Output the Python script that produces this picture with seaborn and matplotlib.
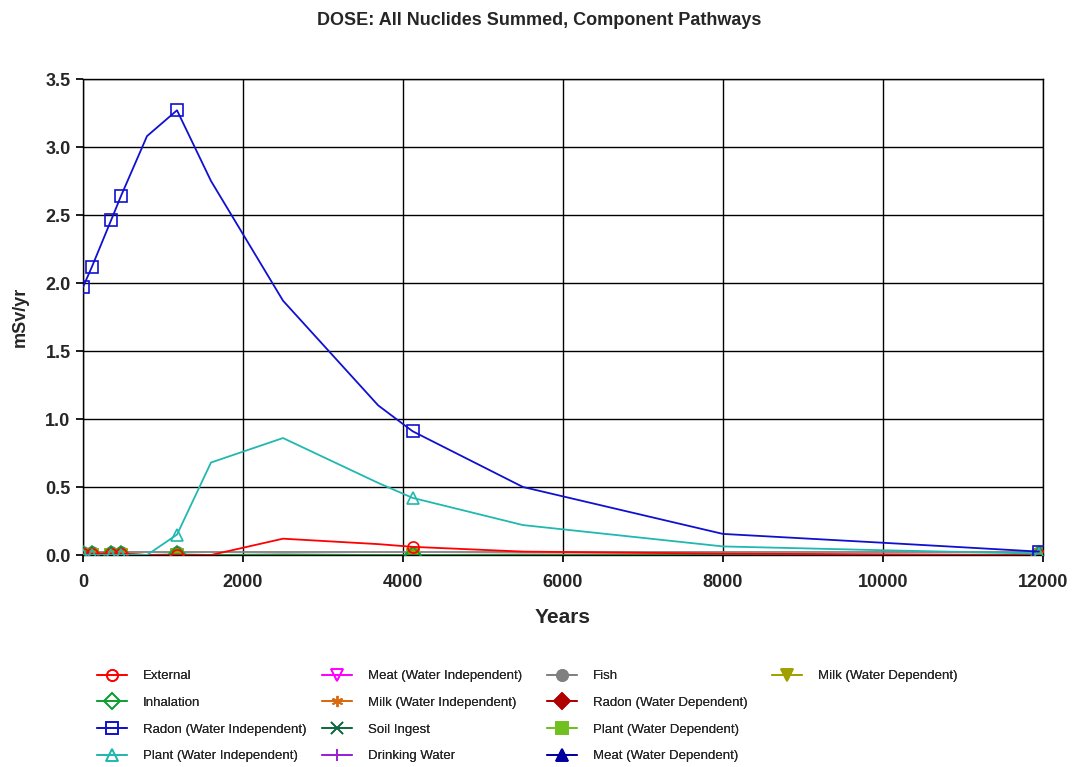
import numpy as np
import pandas as pd
import matplotlib
matplotlib.use("Agg")
import matplotlib.pyplot as plt
import seaborn as sns

# ---- data ----
years = [0, 112, 350, 475, 800, 1175, 1600, 2500, 3690, 4120, 5500, 8000, 10000, 11950]
marker_idx = [0, 1, 2, 3, 5, 9, 13]

external = [0.01, 0.01, 0.01, 0.01, 0.0, 0.0, 0.0, 0.12, 0.08, 0.06, 0.025, 0.01, 0.005, 0.0]
inhalation = [0.01, 0.01, 0.01, 0.01, 0.0, 0.005, 0.0, 0.0, 0.0, 0.0, 0.0, 0.0, 0.0, 0.0]
radon_wi = [1.97, 2.12, 2.46, 2.64, 3.08, 3.27, 2.75, 1.87, 1.10, 0.91, 0.50, 0.155, 0.09, 0.025]
plant_wi = [0.0, 0.0, 0.0, 0.0, 0.0, 0.15, 0.68, 0.86, 0.53, 0.42, 0.22, 0.063, 0.035, 0.01]
meat_wi = [0.0] * 14
milk_wi = [0.005, 0.005, 0.005, 0.005, 0.0, 0.0, 0.0, 0.0, 0.0, 0.0, 0.0, 0.0, 0.0, 0.0]
soil_ingest = [0.0, 0.0, 0.0, 0.0, 0.0, 0.0, 0.0, 0.004, 0.0, 0.0, 0.0, 0.0, 0.0, 0.0]
drinking_water = [0.0] * 14
fish = [0.02] * 14
radon_wd = [0.0, 0.0, 0.0, 0.0, 0.0, 0.0, 0.0, 0.0, 0.0, 0.0, 0.003, 0.004, 0.0, 0.0]
plant_wd = [0.0] * 14
meat_wd = [0.0] * 14
milk_wd = [0.0] * 14

labels = ["External", "Inhalation", "Radon (Water Independent)", "Plant (Water Independent)",
          "Meat (Water Independent)", "Milk (Water Independent)", "Soil Ingest", "Drinking Water",
          "Fish", "Radon (Water Dependent)", "Plant (Water Dependent)", "Meat (Water Dependent)",
          "Milk (Water Dependent)"]
series = [external, inhalation, radon_wi, plant_wi, meat_wi, milk_wi, soil_ingest,
          drinking_water, fish, radon_wd, plant_wd, meat_wd, milk_wd]

x_ticks = [0, 2000, 4000, 6000, 8000, 10000, 12000]
y_ticks = [0.0, 0.5, 1.0, 1.5, 2.0, 2.5, 3.0, 3.5]

# ---- styles ----
styles = [
    dict(color="#ff0000", marker="o", mfc="none", z=5),
    dict(color="#10a030", marker="D", mfc="none", z=3),
    dict(color="#1010d0", marker="s", mfc="none", z=6),
    dict(color="#20b8b0", marker="^", mfc="none", z=5),
    dict(color="#ff00ff", marker="v", mfc="none", z=2),
    dict(color="#d86a10", marker=(6, 2, 0), mfc="none", z=2),
    dict(color="#106a40", marker="x", mfc="none", z=2),
    dict(color="#9a20d0", marker="|", mfc="none", z=2),
    dict(color="#808080", marker="o", mfc=None, z=2),
    dict(color="#b00000", marker="D", mfc=None, z=2),
    dict(color="#70c020", marker="s", mfc=None, z=2),
    dict(color="#0000a0", marker="^", mfc=None, z=2),
    dict(color="#a0a000", marker="v", mfc=None, z=2),
]

sns.set_theme(style="white")
plt.rcParams["font.family"] = ["Liberation Sans", "DejaVu Sans"]

fig = plt.figure(figsize=(10.78, 7.67), dpi=100)
ax = fig.add_axes([0.077, 0.2764, 0.8905, 0.6206])

for lab, ys, st in zip(labels, series, styles):
    df = pd.DataFrame({"Years": years, "dose": ys})
    kw = dict(marker=st["marker"], markevery=marker_idx, markersize=8,
              markeredgecolor=st["color"], markeredgewidth=1.2)
    if st["mfc"] == "none":
        kw["markerfacecolor"] = "none"
    else:
        kw["markerfacecolor"] = st["color"]
    sns.lineplot(data=df, x="Years", y="dose", ax=ax, color=st["color"], linewidth=1.3,
                 label=lab, estimator=None, sort=False, zorder=st["z"], **kw)

ax.set_xlim(0, 12000)
ax.set_ylim(0, 3.5)
ax.set_xticks(x_ticks)
ax.set_yticks(y_ticks)
ax.set_xticklabels([str(v) for v in x_ticks], fontsize=13, fontweight="bold")
ax.set_yticklabels([f"{v:.1f}" for v in y_ticks], fontsize=13, fontweight="bold")
ax.grid(True, color="black", linewidth=1.0)
ax.set_axisbelow(True)
for s in ax.spines.values():
    s.set_color("black")
    s.set_linewidth(1.0)
ax.tick_params(axis="both", length=5, color="black", direction="out", bottom=True, left=True)
ax.tick_params(axis="x", pad=9)
ax.tick_params(axis="y", pad=4)

ax.set_xlabel("Years", fontsize=15, fontweight="bold", labelpad=12)
ax.set_ylabel("mSv/yr", fontsize=13, fontweight="bold", labelpad=12)
fig.suptitle("DOSE: All Nuclides Summed, Component Pathways", fontsize=13, fontweight="bold",
             y=0.985)

# legend: four columns placed explicitly
handles, hlabels = ax.get_legend_handles_labels()
if ax.get_legend():
    ax.get_legend().remove()
groups = [(0, 4), (4, 8), (8, 12), (12, 13)]
col_x = [97, 322, 547, 772]
for (a, b), xp in zip(groups, col_x):
    leg = fig.legend(handles[a:b], hlabels[a:b], loc="upper left",
                     bbox_to_anchor=(xp / 1078, 1 - 670 / 767), frameon=False,
                     fontsize=9.5, handlelength=2.3, labelspacing=1.1,
                     handletextpad=1.2, borderpad=0, borderaxespad=0)
    fig.add_artist(leg)

fig.savefig("out.png", dpi=100, facecolor="white")
